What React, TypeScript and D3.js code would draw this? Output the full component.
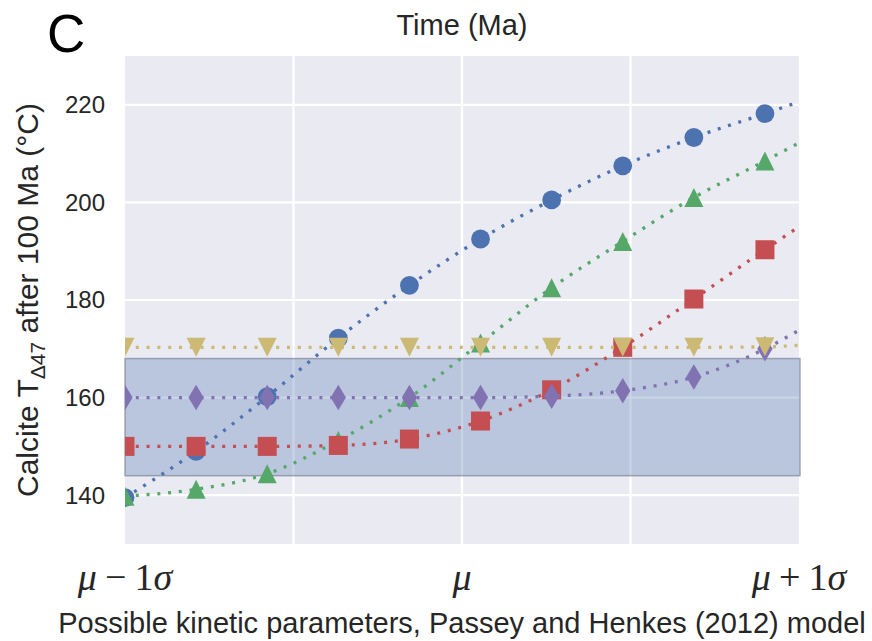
import React from "react";
import * as d3 from "d3";

// positions of sampled kinetic parameter sets (in units of sigma)
const sigmaPos = [-1, -0.789, -0.578, -0.367, -0.156, 0.055, 0.266, 0.477, 0.688, 0.899];
const lineEndSigma = 1;

const blueVals = [139.5, 149.0, 160.2, 172.2, 183.0, 192.5, 200.5, 207.5, 213.3, 218.2];
const greenVals = [139.8, 141.2, 144.4, 151.2, 160.0, 171.2, 182.5, 192.0, 201.0, 208.5];
const redVals = [150.0, 150.0, 150.0, 150.2, 151.5, 155.2, 161.6, 170.3, 180.2, 190.3];
const purpleVals = [160.0, 160.0, 160.0, 160.0, 160.0, 160.0, 160.3, 161.4, 164.2, 170.0];
const yellowVals = [170.3, 170.3, 170.3, 170.3, 170.3, 170.3, 170.3, 170.3, 170.3, 170.4];
const lineEndVals = [220.6, 212.2, 195.0, 173.8, 170.7];

const bandRange = [144, 168];
const yTicks = [140, 160, 180, 200, 220];
const xGrid = [-0.5, 0, 0.5];
const xTickVals = [-1, 0, 1];

const W = 872, H = 641;
const left = 125, right = 799, top = 56, bottom = 544;

const x = d3.scaleLinear().domain([-1, 1]).range([left, right]);
const y = d3.scaleLinear().domain([130, 230]).range([bottom, top]);

// custom marker types
const triUp = { draw(ctx: any, size: number) { const s = Math.sqrt(size); ctx.moveTo(0, -s / 2); ctx.lineTo(s / 2, s / 2); ctx.lineTo(-s / 2, s / 2); ctx.closePath(); } };
const triDown = { draw(ctx: any, size: number) { const s = Math.sqrt(size); ctx.moveTo(0, s / 2); ctx.lineTo(s / 2, -s / 2); ctx.lineTo(-s / 2, -s / 2); ctx.closePath(); } };
const square = { draw(ctx: any, size: number) { const s = Math.sqrt(size); ctx.rect(-s / 2, -s / 2, s, s); } };
const thinDiamond = { draw(ctx: any, size: number) { const h = Math.sqrt(size) * 1.3; const w = h * 0.6; ctx.moveTo(0, -h / 2); ctx.lineTo(w / 2, 0); ctx.lineTo(0, h / 2); ctx.lineTo(-w / 2, 0); ctx.closePath(); } };

const series = [
  { vals: blueVals, color: "#4c72b0", type: d3.symbolCircle, size: Math.PI * 9.4 * 9.4 },
  { vals: greenVals, color: "#55a868", type: triUp, size: 19 * 19 },
  { vals: redVals, color: "#c44e52", type: square, size: 19 * 19 },
  { vals: purpleVals, color: "#8172b2", type: thinDiamond, size: 19.6 * 19.6 },
  { vals: yellowVals, color: "#ccb974", type: triDown, size: 19 * 19 },
];

const sans = "'Liberation Sans', Arial, Helvetica, sans-serif";
const serif = "'Liberation Serif', 'Times New Roman', serif";

export default function App() {
  const line = d3.line<[number, number]>().x(d => x(d[0])).y(d => y(d[1])).curve(d3.curveMonotoneX);
  return (
    <svg width={W} height={H} style={{ position: "absolute", left: 0, top: 0, display: "block" }}>
      <defs>
        <clipPath id="plotclip"><rect x={left} y={top} width={right - left} height={bottom - top} /></clipPath>
      </defs>
      <rect x={0} y={0} width={W} height={H} fill="#ffffff" />
      <rect x={left} y={top} width={right - left} height={bottom - top} fill="#eaeaf2" />
      {xGrid.map(g => <line key={"gx" + g} x1={x(g)} x2={x(g)} y1={top} y2={bottom} stroke="#ffffff" strokeWidth={2.2} />)}
      {yTicks.map(t => <line key={"gy" + t} x1={left} x2={right} y1={y(t)} y2={y(t)} stroke="#ffffff" strokeWidth={2.2} />)}
      <rect x={left} y={y(bandRange[1])} width={right - left + 1} height={y(bandRange[0]) - y(bandRange[1])}
        fill="#4c72b0" fillOpacity={0.3} stroke="#7d8597" strokeOpacity={0.7} strokeWidth={1.5} />
      <g clipPath="url(#plotclip)">
        {series.map((s, i) => {
          const pts: [number, number][] = s.vals.map((v, j) => [sigmaPos[j], v] as [number, number]);
          pts.push([lineEndSigma, lineEndVals[i]]);
          const sym = d3.symbol().type(s.type as any).size(s.size)();
          return (
            <g key={"s" + i}>
              <path d={line(pts) || ""} fill="none" stroke={s.color} strokeWidth={3.3} strokeDasharray="3 7.8" />
              {s.vals.map((v, j) => (
                <path key={j} d={sym || ""} transform={`translate(${x(sigmaPos[j])},${y(v)})`} fill={s.color} />
              ))}
            </g>
          );
        })}
      </g>
      {yTicks.map(t => (
        <text key={"yt" + t} x={105} y={y(t)} dy="0.35em" textAnchor="end" fontFamily={sans} fontSize={24} fill="#262626">{t}</text>
      ))}
      {xTickVals.map(t => (
        <text key={"xt" + t} x={x(t)} y={590} textAnchor="middle" fontFamily={serif} fontSize={38} fill="#262626">
          <tspan fontStyle="italic">μ</tspan>
          {t !== 0 && <tspan dx={8}>{t < 0 ? "−" : "+"}</tspan>}
          {t !== 0 && <tspan dx={8}>1</tspan>}
          {t !== 0 && <tspan fontStyle="italic">σ</tspan>}
        </text>
      ))}
      <text x={(left + right) / 2} y={35} textAnchor="middle" fontFamily={sans} fontSize={29} fill="#262626">Time (Ma)</text>
      <text x={(left + right) / 2} y={633} textAnchor="middle" fontFamily={sans} fontSize={29} fill="#262626">Possible kinetic parameters, Passey and Henkes (2012) model</text>
      <text transform={`translate(38,${(top + bottom) / 2}) rotate(-90)`} textAnchor="middle" fontFamily={sans} fontSize={30} fill="#262626">
        Calcite T<tspan fontSize={21} dy={7}>Δ47</tspan><tspan dy={-7}> after 100 Ma (°C)</tspan>
      </text>
      <text x={47} y={52} fontFamily={sans} fontSize={53} fill="#000000">C</text>
    </svg>
  );
}
